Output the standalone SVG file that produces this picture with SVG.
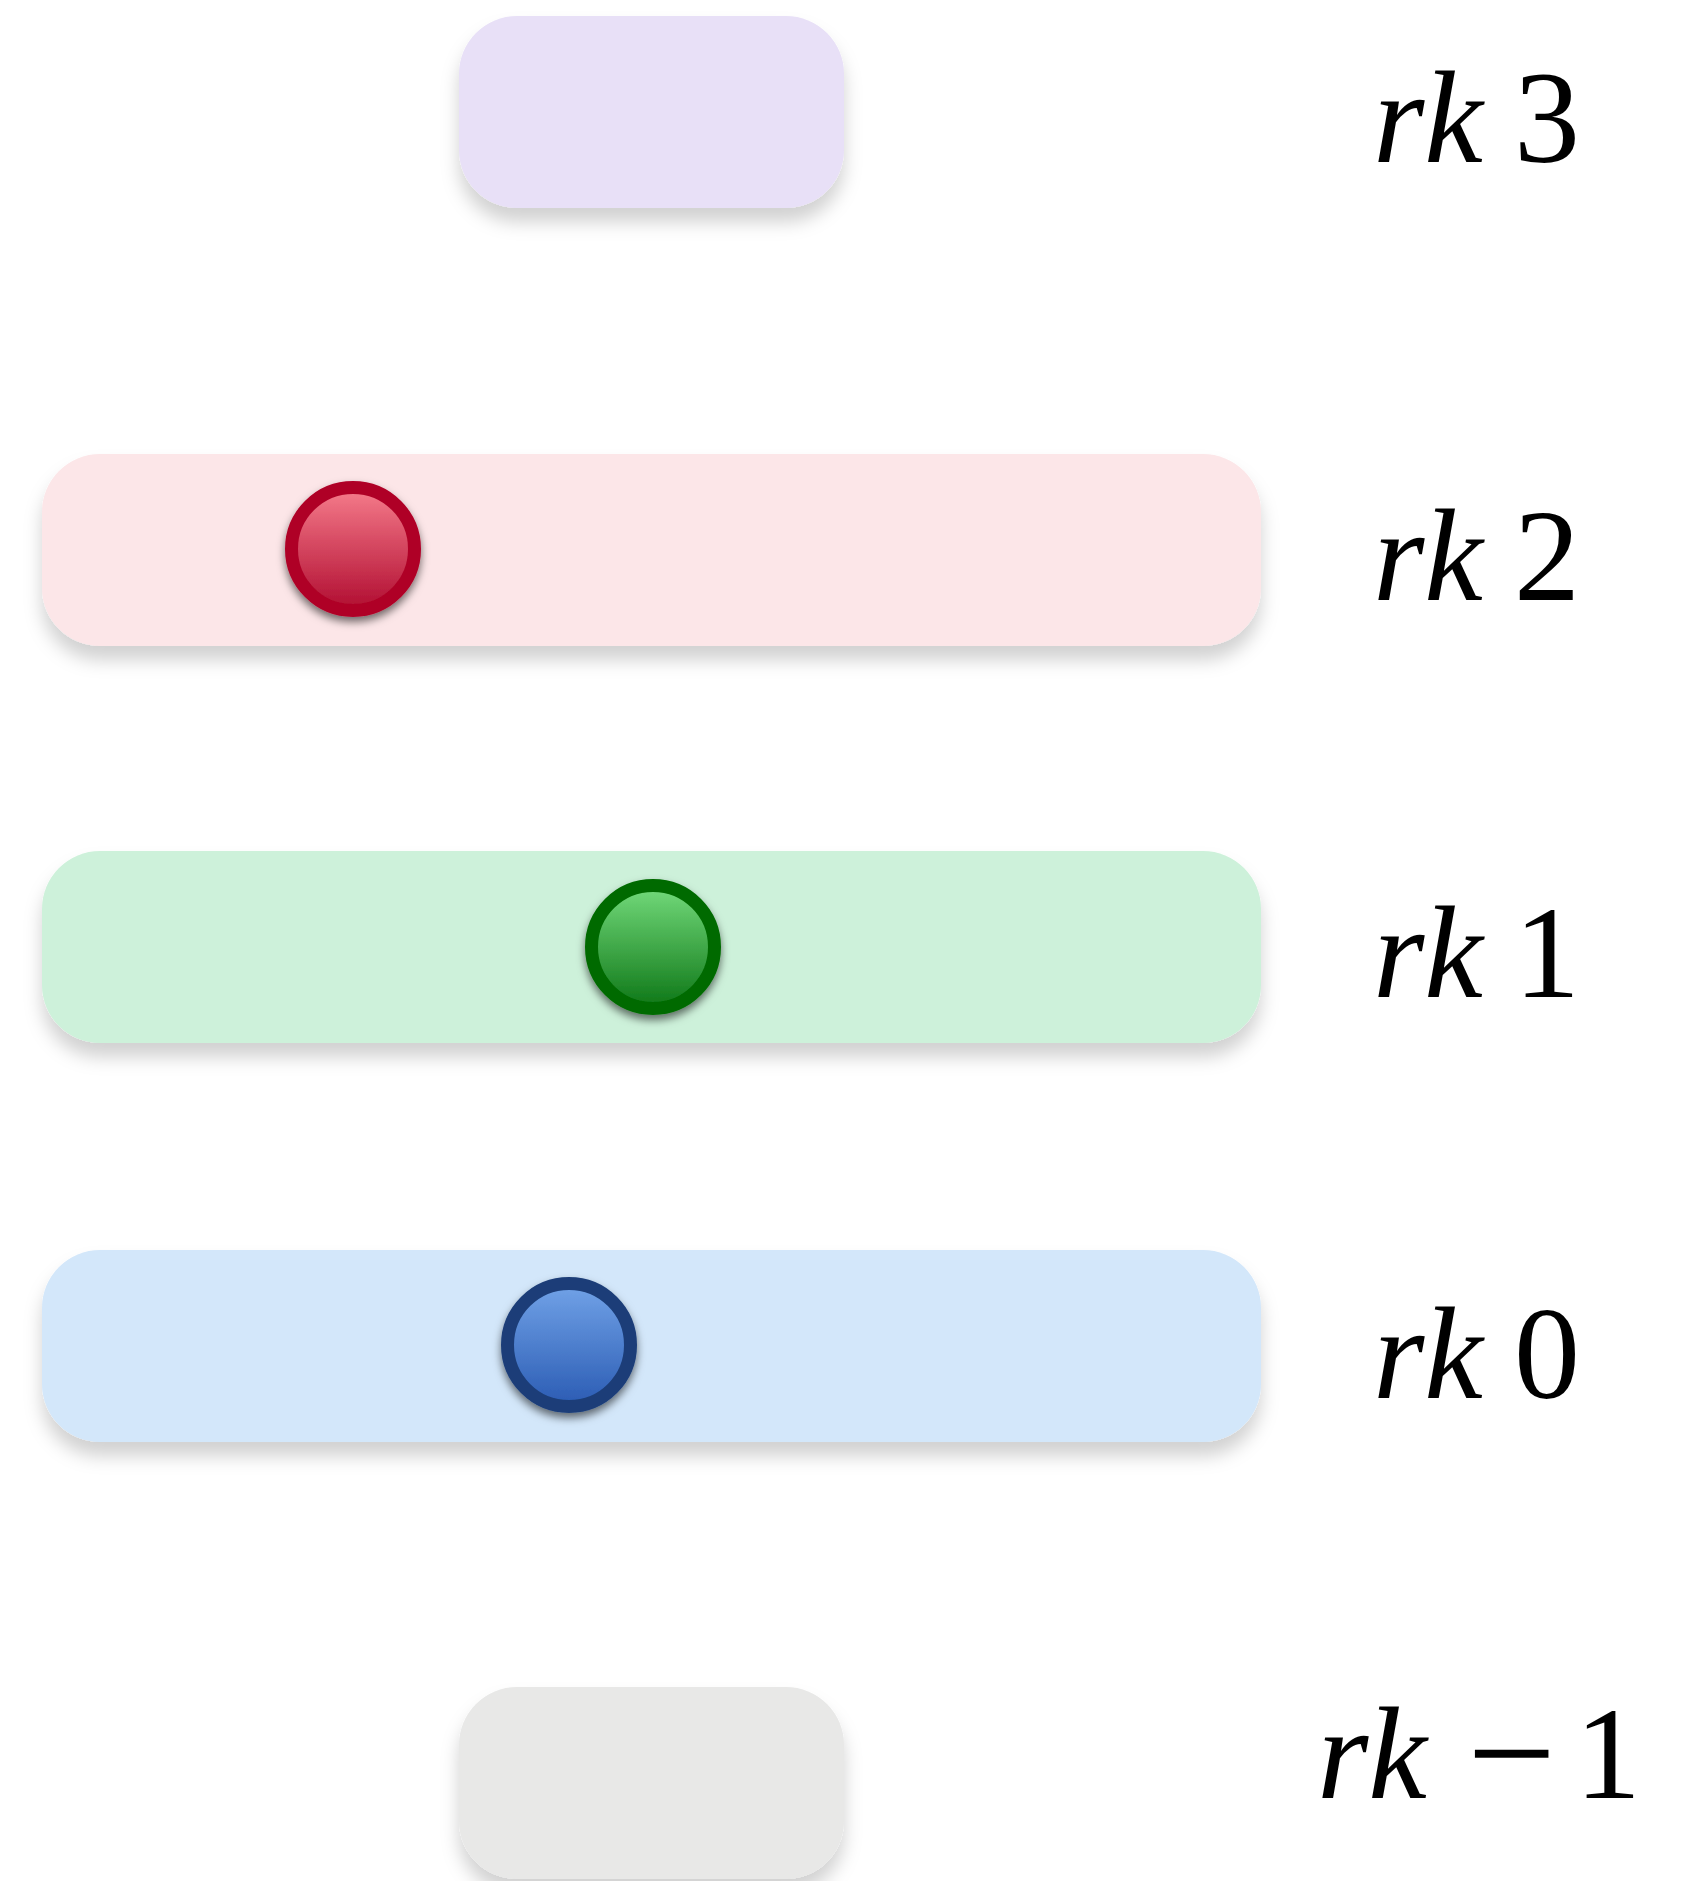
<svg xmlns="http://www.w3.org/2000/svg" width="1690" height="1881" viewBox="0 0 1690 1881">
<style>
.lbl{font-family:"Liberation Serif","Times New Roman",serif;font-size:132px;fill:#000}
.it{font-style:italic}
</style>
<defs>
<filter id="boxShadow" x="-10%" y="-30%" width="120%" height="170%">
<feDropShadow dx="0" dy="14" stdDeviation="9" flood-color="#000" flood-opacity="0.18"/>
</filter>
<filter id="dotShadow" x="-40%" y="-40%" width="180%" height="190%">
<feDropShadow dx="0" dy="5" stdDeviation="4" flood-color="#000" flood-opacity="0.55"/>
</filter>
<linearGradient id="gRed" x1="0" y1="0" x2="0" y2="1">
<stop offset="0" stop-color="#f67d8c"/><stop offset="1" stop-color="#b00c30"/>
</linearGradient>
<linearGradient id="gGreen" x1="0" y1="0" x2="0" y2="1">
<stop offset="0" stop-color="#74db7c"/><stop offset="1" stop-color="#0d7616"/>
</linearGradient>
<linearGradient id="gBlue" x1="0" y1="0" x2="0" y2="1">
<stop offset="0" stop-color="#72a3e8"/><stop offset="1" stop-color="#2a5bb3"/>
</linearGradient>
</defs>
<rect width="1690" height="1881" fill="#ffffff"/>

<g id="rank3">
<rect x="459" y="16" width="385" height="192" rx="58" fill="#e8e0f7" filter="url(#boxShadow)"/>
<text class="lbl" y="162"><tspan class="it" x="1373">rk</tspan><tspan x="1514">3</tspan></text>
</g>

<g id="rank2">
<rect x="42" y="454" width="1219" height="192" rx="58" fill="#fce6e8" filter="url(#boxShadow)"/>
<text class="lbl" y="600"><tspan class="it" x="1373">rk</tspan><tspan x="1514">2</tspan></text>
</g>

<g id="rank1">
<rect x="42" y="851" width="1219" height="192" rx="58" fill="#cdf1da" filter="url(#boxShadow)"/>
<text class="lbl" y="997"><tspan class="it" x="1373">rk</tspan><tspan x="1514">1</tspan></text>
</g>

<g id="rank0">
<rect x="42" y="1250" width="1219" height="192" rx="58" fill="#d3e7fa" filter="url(#boxShadow)"/>
<text class="lbl" y="1398"><tspan class="it" x="1373">rk</tspan><tspan x="1514">0</tspan></text>
</g>

<g id="rankm1">
<rect x="459" y="1687" width="385" height="192" rx="58" fill="#e8e8e7" filter="url(#boxShadow)"/>
<text class="lbl" y="1798"><tspan class="it" x="1317">rk</tspan><tspan x="1467" y="1806" font-size="158">−</tspan><tspan x="1575" y="1798">1</tspan></text>
</g>

<g id="dotRed">
<circle cx="353" cy="549" r="61.5" fill="url(#gRed)" stroke="#af0328" stroke-width="13" filter="url(#dotShadow)"/>
</g>
<g id="dotGreen">
<circle cx="653" cy="947" r="61.5" fill="url(#gGreen)" stroke="#006b00" stroke-width="13" filter="url(#dotShadow)"/>
</g>
<g id="dotBlue">
<circle cx="569" cy="1345" r="61.5" fill="url(#gBlue)" stroke="#1c3e78" stroke-width="13" filter="url(#dotShadow)"/>
</g>

<g id="connectors"></g>
</svg>
